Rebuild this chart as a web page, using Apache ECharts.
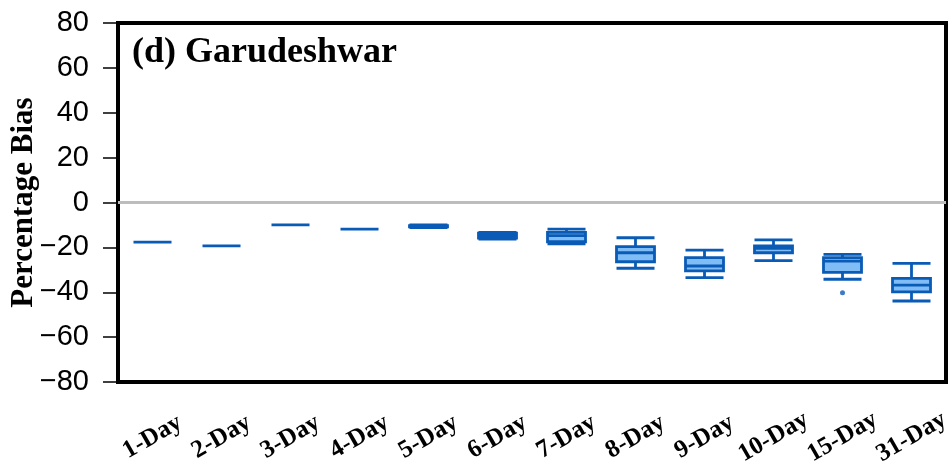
<!DOCTYPE html>
<html>
<head>
<meta charset="utf-8">
<script src="https://cdn.jsdelivr.net/npm/echarts@6/dist/echarts.min.js"></script>
<style>
html,body{margin:0;padding:0;background:#fff;}
#chart{width:949px;height:472px;}
</style>
</head>
<body>
<div id="chart"></div>
<script>
// Categories (lead times)
var categories = ['1-Day','2-Day','3-Day','4-Day','5-Day','6-Day','7-Day','8-Day','9-Day','10-Day','15-Day','31-Day'];
// Box statistics per category: [min, Q1, median, Q3, max]
var boxMin    = [-17.7, -19.3, -10.0, -11.9, -11.2, -16.3, -18.4, -29.3, -33.5, -25.9, -34.2, -43.9];
var boxQ1     = [-17.7, -19.3, -10.0, -11.9, -10.9, -15.9, -17.5, -26.4, -30.5, -22.4, -31.1, -39.8];
var boxMedian = [-17.7, -19.3, -10.0, -11.9, -10.6, -14.6, -14.8, -22.4, -28.3, -20.4, -26.1, -36.8];
var boxQ3     = [-17.7, -19.3, -10.0, -11.9, -10.3, -13.7, -13.3, -19.7, -24.6, -19.3, -24.6, -33.8];
var boxMax    = [-17.7, -19.3, -10.0, -11.9, -10.0, -13.3, -11.9, -15.7, -21.2, -16.7, -23.1, -27.1];
// Outliers: [category, value]
var outlierCats = ['15-Day'];
var outlierVals = [-40.2];
// Y ticks
var yMin = -80, yMax = 80, yStep = 20;

var boxData = categories.map(function(c, i){
  return [boxMin[i], boxQ1[i], boxMedian[i], boxQ3[i], boxMax[i]];
});
var outlierData = outlierCats.map(function(c, i){ return [c, outlierVals[i]]; });

var chart = echarts.init(document.getElementById('chart'), null, {renderer:'canvas'});
chart.setOption({
  animation: false,
  backgroundColor: '#ffffff',
  title: {
    text: '(d) Garudeshwar',
    left: 127, top: 30,
    textStyle: {fontFamily: 'Liberation Serif', fontWeight: 'bold', fontSize: 36, color: '#000'}
  },
  grid: {
    left: 118, right: 3, top: 23, bottom: 90,
    containLabel: false,
    outerBoundsMode: 'none',
    show: true, borderColor: '#000', borderWidth: 4, backgroundColor: 'transparent'
  },
  xAxis: {
    type: 'category',
    data: categories,
    boundaryGap: true,
    axisLine: {show: false},
    axisTick: {show: false},
    splitLine: {show: false},
    axisLabel: {
      rotate: 30, align: 'center', verticalAlign: 'middle', margin: 55,
      fontFamily: 'Liberation Serif', fontWeight: 'bold', fontSize: 25, color: '#000',
      interval: 0
    }
  },
  yAxis: {
    type: 'value',
    min: yMin, max: yMax, interval: yStep,
    name: 'Percentage Bias',
    nameLocation: 'middle', nameGap: 79, nameRotate: 90,
    nameMoveOverlap: false,
    nameTextStyle: {fontFamily: 'Liberation Serif', fontWeight: 'bold', fontSize: 31, color: '#000'},
    axisLine: {show: false},
    axisTick: {show: true, inside: false, length: 15, lineStyle: {color: '#000', width: 1.5}},
    splitLine: {show: false},
    axisLabel: {
      margin: 29, fontFamily: 'Liberation Sans', fontSize: 29, color: '#000',
      formatter: function(v){ return String(v).replace('-', '\u2212'); }
    }
  },
  series: [
    {
      type: 'boxplot',
      data: boxData,
      boxWidth: [38, 38],
      itemStyle: {color: '#80bdf6', borderColor: '#0a5bb5', borderWidth: 2.8},
      z: 3,
      markLine: {
        silent: true, symbol: 'none', label: {show: false},
        lineStyle: {color: '#bdbdbd', width: 3, type: 'solid'},
        data: [{yAxis: 0}],
        z: 1
      }
    },
    {
      type: 'scatter',
      data: outlierData,
      symbol: 'circle', symbolSize: 5,
      itemStyle: {color: '#0a5bb5'},
      z: 4
    }
  ]
});
</script>
</body>
</html>
